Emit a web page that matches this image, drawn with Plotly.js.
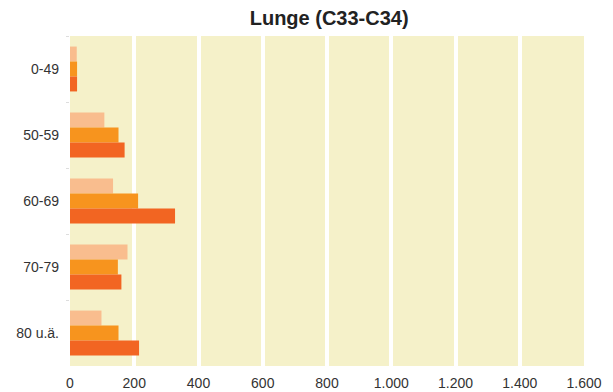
<!DOCTYPE html>
<html><head><meta charset="utf-8">
<script src="https://cdn.plot.ly/plotly-3.0.1.min.js"></script>
<style>body{margin:0;background:#fff}#c{width:613px;height:392px}</style>
</head><body><div id="c"></div>
<script>
const categories = ["0-49", "50-59", "60-69", "70-79", "80 u.ä."];
const seriesA = [21, 107, 134, 179, 98];   // light
const seriesB = [22, 151, 212, 149, 151];  // orange
const seriesC = [22, 170, 327, 160, 215];  // dark
const xTicks = [0, 200, 400, 600, 800, 1000, 1200, 1400, 1600];
const colors = ["#f9bd8e", "#f7941e", "#f26522"];

const data = [seriesA, seriesB, seriesC].map((v, i) => ({
  type: "bar", orientation: "h", y: categories, x: v,
  marker: {color: colors[i]}, hoverinfo: "none", showlegend: false
}));

const layout = {
  width: 613, height: 392,
  margin: {l: 70, r: 29, t: 36, b: 26},
  paper_bgcolor: "#ffffff", plot_bgcolor: "#f5f1c9",
  separators: ",.",
  font: {family: "Liberation Sans, Arial, sans-serif", size: 14, color: "#333333"},
  title: {text: "<b>Lunge (C33-C34)</b>", font: {size: 20, color: "#222222"}, x: 0.537, xanchor: "center", y: 0.953, yanchor: "middle"},
  barmode: "group", bargap: 0.32, bargroupgap: 0,
  xaxis: {range: [0, 1600], tickvals: xTicks, tickformat: ",d", showgrid: true, gridcolor: "#ffffff", gridwidth: 4,
          zeroline: true, zerolinecolor: "#f5f1c9", zerolinewidth: 1, showline: false, ticks: "", ticklabelstandoff: 7, fixedrange: true},
  yaxis: {autorange: "reversed", type: "category", showgrid: false, zeroline: false, showline: false,
          ticks: "outside", tickson: "boundaries", ticklen: 3, tickcolor: "#dddddd", ticklabelstandoff: 10, fixedrange: true}
};
Plotly.newPlot("c", data, layout, {staticPlot: true, displayModeBar: false});
</script></body></html>
